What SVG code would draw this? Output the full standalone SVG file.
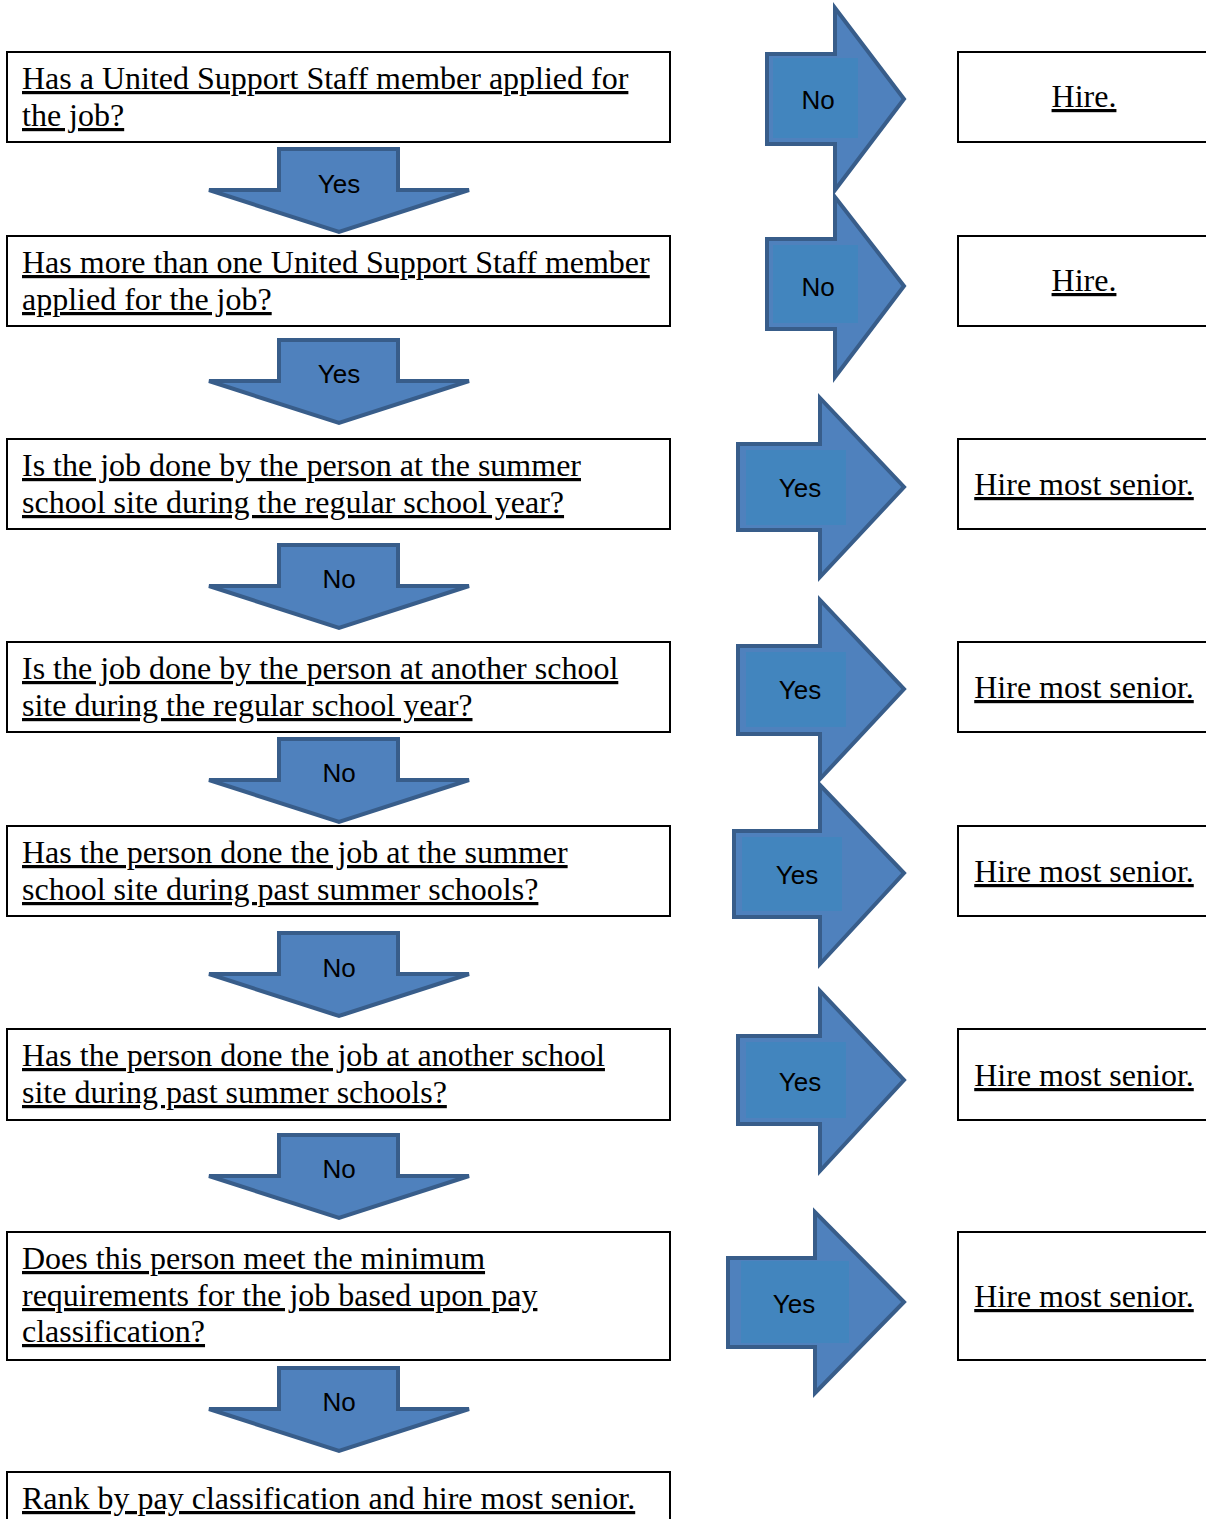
<svg xmlns="http://www.w3.org/2000/svg" width="1206" height="1519" viewBox="0 0 1206 1519">
<style>
.box{fill:#fff;stroke:#000;stroke-width:2}
.q{font-family:"Liberation Serif","Times New Roman",serif;font-size:32px;fill:#000;text-decoration:underline}
.arr{fill:#4f81bd;stroke:#385d8a;stroke-width:4;stroke-linejoin:miter}
.tb{fill:#4285be}
.lbl{font-family:"Liberation Sans","Open Sans",sans-serif;font-size:26px;fill:#000;text-anchor:middle}
.c{text-anchor:middle}
</style>
<rect width="1206" height="1519" fill="#fff"/>
<g id="connectors">
<g id="d1"><path class="arr" d="M279,149 H398 V190 H469 L339,232 L209,190 H279 Z"/><text class="lbl" x="339" y="193">Yes</text></g>
<g id="d2"><path class="arr" d="M279,340 H398 V381 H469 L339,423 L209,381 H279 Z"/><text class="lbl" x="339" y="383">Yes</text></g>
<g id="d3"><path class="arr" d="M279,545 H398 V586 H469 L339,628 L209,586 H279 Z"/><text class="lbl" x="339" y="588">No</text></g>
<g id="d4"><path class="arr" d="M279,739 H398 V780 H469 L339,822 L209,780 H279 Z"/><text class="lbl" x="339" y="782">No</text></g>
<g id="d5"><path class="arr" d="M279,933 H398 V974 H469 L339,1016 L209,974 H279 Z"/><text class="lbl" x="339" y="977">No</text></g>
<g id="d6"><path class="arr" d="M279,1135 H398 V1176 H469 L339,1218 L209,1176 H279 Z"/><text class="lbl" x="339" y="1178">No</text></g>
<g id="d7"><path class="arr" d="M279,1368 H398 V1409 H469 L339,1451 L209,1409 H279 Z"/><text class="lbl" x="339" y="1411">No</text></g>

<g id="r1"><path class="arr" d="M767,54 H835 V8 L904,99 L835,190 V144 H767 Z"/><rect class="tb" x="773" y="58" width="85" height="80"/><text class="lbl" x="818" y="109">No</text></g>
<g id="r2"><path class="arr" d="M767,239 H835 V197 L904,286 L835,377 V329 H767 Z"/><rect class="tb" x="773" y="245" width="85" height="78"/><text class="lbl" x="818" y="296">No</text></g>
<g id="r3"><path class="arr" d="M738,444 H820 V398 L904,487 L820,577 V530 H738 Z"/><rect class="tb" x="746" y="450" width="100" height="75"/><text class="lbl" x="800" y="497">Yes</text></g>
<g id="r4"><path class="arr" d="M738,646 H820 V600 L904,689 L820,779 V734 H738 Z"/><rect class="tb" x="746" y="652" width="100" height="75"/><text class="lbl" x="800" y="699">Yes</text></g>
<g id="r5"><path class="arr" d="M734,831 H820 V785 L904,873 L820,964 V917 H734 Z"/><rect class="tb" x="742" y="837" width="100" height="74"/><text class="lbl" x="797" y="884">Yes</text></g>
<g id="r6"><path class="arr" d="M738,1036 H820 V991 L904,1080 L820,1171 V1124 H738 Z"/><rect class="tb" x="746" y="1042" width="100" height="76"/><text class="lbl" x="800" y="1091">Yes</text></g>
<g id="r7"><path class="arr" d="M728,1258 H815 V1212 L904,1302 L815,1393 V1347 H728 Z"/><rect class="tb" x="741" y="1261" width="108" height="82"/><text class="lbl" x="794" y="1313">Yes</text></g>
</g>

<g id="n1"><rect class="box" x="7" y="52" width="663" height="90"/><text class="q" x="22" y="89">Has a United Support Staff member applied for</text><text class="q" x="22" y="126">the job?</text></g>
<g id="n2"><rect class="box" x="7" y="236" width="663" height="90"/><text class="q" x="22" y="273">Has more than one United Support Staff member</text><text class="q" x="22" y="310">applied for the job?</text></g>
<g id="n3"><rect class="box" x="7" y="439" width="663" height="90"/><text class="q" x="22" y="476">Is the job done by the person at the summer</text><text class="q" x="22" y="513">school site during the regular school year?</text></g>
<g id="n4"><rect class="box" x="7" y="642" width="663" height="90"/><text class="q" x="22" y="679">Is the job done by the person at another school</text><text class="q" x="22" y="716">site during the regular school year?</text></g>
<g id="n5"><rect class="box" x="7" y="826" width="663" height="90"/><text class="q" x="22" y="863">Has the person done the job at the summer</text><text class="q" x="22" y="900">school site during past summer schools?</text></g>
<g id="n6"><rect class="box" x="7" y="1029" width="663" height="91"/><text class="q" x="22" y="1066">Has the person done the job at another school</text><text class="q" x="22" y="1103">site during past summer schools?</text></g>
<g id="n7"><rect class="box" x="7" y="1232" width="663" height="128"/><text class="q" x="22" y="1269">Does this person meet the minimum</text><text class="q" x="22" y="1306">requirements for the job based upon pay</text><text class="q" x="22" y="1342">classification?</text></g>
<g id="n8"><rect class="box" x="7" y="1472" width="663" height="60"/><text class="q" x="22" y="1509">Rank by pay classification and hire most senior.</text></g>

<g id="h1"><rect class="box" x="958" y="52" width="260" height="90"/><text class="q c" x="1084" y="107">Hire.</text></g>
<g id="h2"><rect class="box" x="958" y="236" width="260" height="90"/><text class="q c" x="1084" y="291">Hire.</text></g>
<g id="h3"><rect class="box" x="958" y="439" width="260" height="90"/><text class="q c" x="1084" y="495">Hire most senior.</text></g>
<g id="h4"><rect class="box" x="958" y="642" width="260" height="90"/><text class="q c" x="1084" y="698">Hire most senior.</text></g>
<g id="h5"><rect class="box" x="958" y="826" width="260" height="90"/><text class="q c" x="1084" y="882">Hire most senior.</text></g>
<g id="h6"><rect class="box" x="958" y="1029" width="260" height="91"/><text class="q c" x="1084" y="1086">Hire most senior.</text></g>
<g id="h7"><rect class="box" x="958" y="1232" width="260" height="128"/><text class="q c" x="1084" y="1307">Hire most senior.</text></g>
</svg>
